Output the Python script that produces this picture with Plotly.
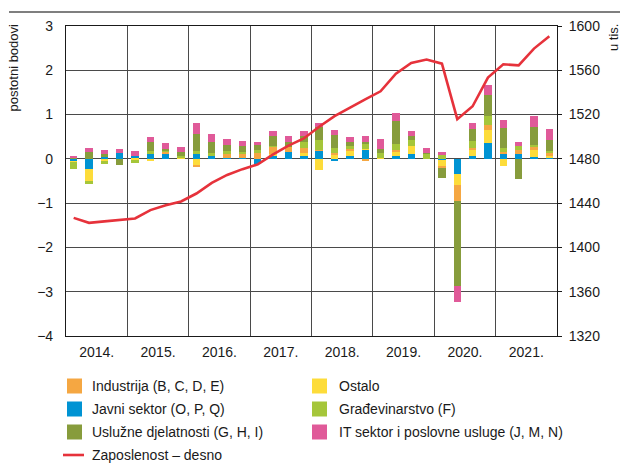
import plotly.graph_objects as go

quarters = ["2014Q1", "2014Q2", "2014Q3", "2014Q4", "2015Q1", "2015Q2", "2015Q3", "2015Q4",
            "2016Q1", "2016Q2", "2016Q3", "2016Q4", "2017Q1", "2017Q2", "2017Q3", "2017Q4",
            "2018Q1", "2018Q2", "2018Q3", "2018Q4", "2019Q1", "2019Q2", "2019Q3", "2019Q4",
            "2020Q1", "2020Q2", "2020Q3", "2020Q4", "2021Q1", "2021Q2", "2021Q3", "2021Q4"]
years = ["2014.", "2015.", "2016.", "2017.", "2018.", "2019.", "2020.", "2021."]

javni = [-0.05, -0.24, 0.04, 0.14, 0.07, 0.11, 0.11, 0.0,
         0.12, 0.07, 0.03, 0.02, -0.12, 0.08, 0.15, 0.06,
         0.19, -0.04, 0.075, 0.2, 0.0, 0.075, 0.1, 0.0,
         -0.02, -0.34, 0.06, 0.35, 0.11, 0.1, 0.04, 0.02]
ostalo = [-0.01, -0.27, -0.05, 0.0, -0.03, -0.05, 0.0, 0.02,
          -0.13, 0.0, 0.0, 0.0, 0.0, 0.03, 0.0, 0.07,
          -0.26, 0.1, 0.11, 0.03, 0.02, 0.1, 0.2, 0.0,
          -0.13, -0.26, 0.13, 0.3, -0.15, 0.0, 0.17, 0.05]
industrija = [0.0, 0.0, 0.0, 0.0, 0.0, 0.02, 0.05, 0.0,
              -0.05, 0.0, 0.08, 0.08, 0.14, 0.17, 0.12, 0.12,
              0.02, 0.04, 0.03, -0.05, 0.0, 0.03, 0.0, 0.0,
              -0.06, -0.36, 0.05, 0.11, 0.05, 0.1, 0.05, 0.06]
gradjevinarstvo = [-0.16, -0.05, -0.07, 0.0, -0.06, 0.04, 0.02, 0.05,
                   0.05, 0.06, 0.06, 0.05, 0.07, 0.02, 0.0, 0.14,
                   0.22, 0.11, 0.08, 0.12, 0.11, 0.14, 0.13, 0.12,
                   0.09, 0.0, 0.16, 0.21, 0.08, 0.08, 0.06, 0.05]
usluzne = [0.02, 0.15, 0.06, -0.13, 0.0, 0.2, 0.05, 0.09,
           0.4, 0.26, 0.15, 0.13, 0.11, 0.21, 0.11, 0.13,
           0.3, 0.28, 0.08, 0.02, 0.1, 0.5, 0.08, 0.02,
           -0.23, -1.9, 0.28, 0.47, 0.45, -0.46, 0.41, 0.24]
it_sektor = [0.03, 0.09, 0.09, 0.09, 0.1, 0.12, 0.12, 0.1,
             0.23, 0.18, 0.12, 0.13, 0.07, 0.13, 0.14, 0.1,
             0.08, 0.13, 0.11, 0.14, 0.21, 0.2, 0.13, 0.1,
             0.07, -0.38, 0.13, 0.23, 0.18, 0.1, 0.23, 0.26]
zaposlenost = [1426.7, 1422.2, 1423.5, 1425.0, 1426.2, 1433.7, 1438.2, 1441.5,
               1448.7, 1458.3, 1465.5, 1470.7, 1475.0, 1484.0, 1492.0, 1498.4,
               1509.0, 1518.5, 1526.3, 1533.8, 1541.0, 1557.0, 1566.6, 1569.7,
               1566.0, 1515.8, 1527.5, 1553.4, 1565.4, 1564.5, 1579.6, 1590.7]

x = list(range(len(quarters)))
FONT = "Liberation Sans, Arial, sans-serif"
TXT = "#1a1a1a"

# stacking order (from zero outward)
series = [
    ("Javni sektor (O, P, Q)", javni, "#0093D3"),
    ("Ostalo", ostalo, "#FDDC3A"),
    ("Industrija (B, C, D, E)", industrija, "#F5A742"),
    ("Građevinarstvo (F)", gradjevinarstvo, "#A5C63A"),
    ("Uslužne djelatnosti (G, H, I)", usluzne, "#879C3C"),
    ("IT sektor i poslovne usluge (J, M, N)", it_sektor, "#E05A99"),
]
LINE_NAME = "Zaposlenost – desno"
LINE_COLOR = "#E6323B"

fig = go.Figure()
for name, vals, col in series:
    fig.add_trace(go.Bar(x=x, y=vals, name=name, marker_color=col, width=0.48,
                         marker_line_width=0))

fig.add_trace(go.Scatter(x=x, y=zaposlenost, name=LINE_NAME, mode="lines",
                         line=dict(color=LINE_COLOR, width=2.6), yaxis="y2"))

# ---- page geometry: paper = whole figure (zero margins), plot placed via domains ----
W, H = 620, 465
PL, PR, PT, PB = 66, 557, 26, 336
def px(v):
    return v / W
def py(v):
    return (H - v) / H

legend_order = [2, 1, 0, 3, 4, 5]   # Industrija, Ostalo, Javni, Građevinarstvo, Uslužne, IT
col_sym = [67, 312]
col_txt = [90, 337]
row_y = [386, 409, 432, 455]
# thin rule across the top of the figure
shapes = [dict(type="line", xref="paper", yref="paper", x0=px(9), x1=px(620),
               y0=py(12), y1=py(12), line=dict(color="#555555", width=1.5))]
annotations = []
for k, idx in enumerate(legend_order):
    name, _, col = series[idx]
    r, c = divmod(k, 2)
    yc = row_y[r]
    shapes.append(dict(type="rect", xref="paper", yref="paper",
                       x0=px(col_sym[c]), x1=px(col_sym[c] + 15),
                       y0=py(yc - 7.5), y1=py(yc + 7.5),
                       fillcolor=col, line=dict(width=0)))
    annotations.append(dict(text=name, xref="paper", yref="paper", x=px(col_txt[c]), y=py(yc),
                            xanchor="left", yanchor="middle", showarrow=False,
                            font=dict(family=FONT, size=14, color=TXT)))
shapes.append(dict(type="line", xref="paper", yref="paper", x0=px(63), x1=px(84),
                   y0=py(row_y[3]), y1=py(row_y[3]), line=dict(color=LINE_COLOR, width=2.6)))
annotations.append(dict(text=LINE_NAME, xref="paper", yref="paper", x=px(col_txt[0]), y=py(row_y[3]),
                        xanchor="left", yanchor="middle", showarrow=False,
                        font=dict(family=FONT, size=14, color=TXT)))
annotations += [
    dict(text="postotni bodovi", textangle=-90, xref="paper", yref="paper",
         x=px(22), y=py(22), xanchor="right", yanchor="top", showarrow=False,
         font=dict(family=FONT, size=13, color=TXT)),
    dict(text="u tis.", textangle=-90, xref="paper", yref="paper",
         x=px(604), y=py(22), xanchor="left", yanchor="top", showarrow=False,
         font=dict(family=FONT, size=13, color=TXT)),
]

grid = "#4a4a4a"
fig.update_layout(
    width=W, height=H,
    margin=dict(l=0, r=0, t=0, b=0, pad=0),
    paper_bgcolor="white", plot_bgcolor="white",
    barmode="relative", bargap=0,
    font=dict(family=FONT, size=14, color=TXT),
    showlegend=False,
    xaxis=dict(domain=[px(PL), px(PR)], range=[-0.5, len(quarters) - 0.5], tickmode="array",
               tickvals=[1.5 + 4 * i for i in range(len(years))], ticktext=years,
               showgrid=False, ticks="", showline=True, linecolor=TXT, linewidth=1.2,
               mirror=True, zeroline=False, ticklabelstandoff=3, automargin=False,
               minor=dict(tickmode="array", tickvals=[3.5 + 4 * i for i in range(len(years) - 1)],
                          showgrid=True, gridcolor=grid, gridwidth=1.2, ticks="")),
    yaxis=dict(domain=[py(PB), py(PT)], range=[-4, 3], dtick=1, tick0=0, showgrid=True,
               gridcolor=grid, gridwidth=1.2,
               zeroline=True, zerolinecolor=grid, zerolinewidth=1.2,
               showline=True, linecolor=TXT, linewidth=1.2, mirror=True,
               ticks="", ticklabelstandoff=9, automargin=False),
    yaxis2=dict(range=[1320, 1600], dtick=40, tick0=1320, overlaying="y", side="right",
                anchor="x", showgrid=False, zeroline=False, ticks="outside", ticklen=4,
                tickcolor=TXT, ticklabelstandoff=4, automargin=False),
    shapes=shapes,
    annotations=annotations,
)

fig.write_html("out.html", config={"displayModeBar": False},
               post_script="document.body.style.margin='0';document.body.style.overflow='hidden';")
